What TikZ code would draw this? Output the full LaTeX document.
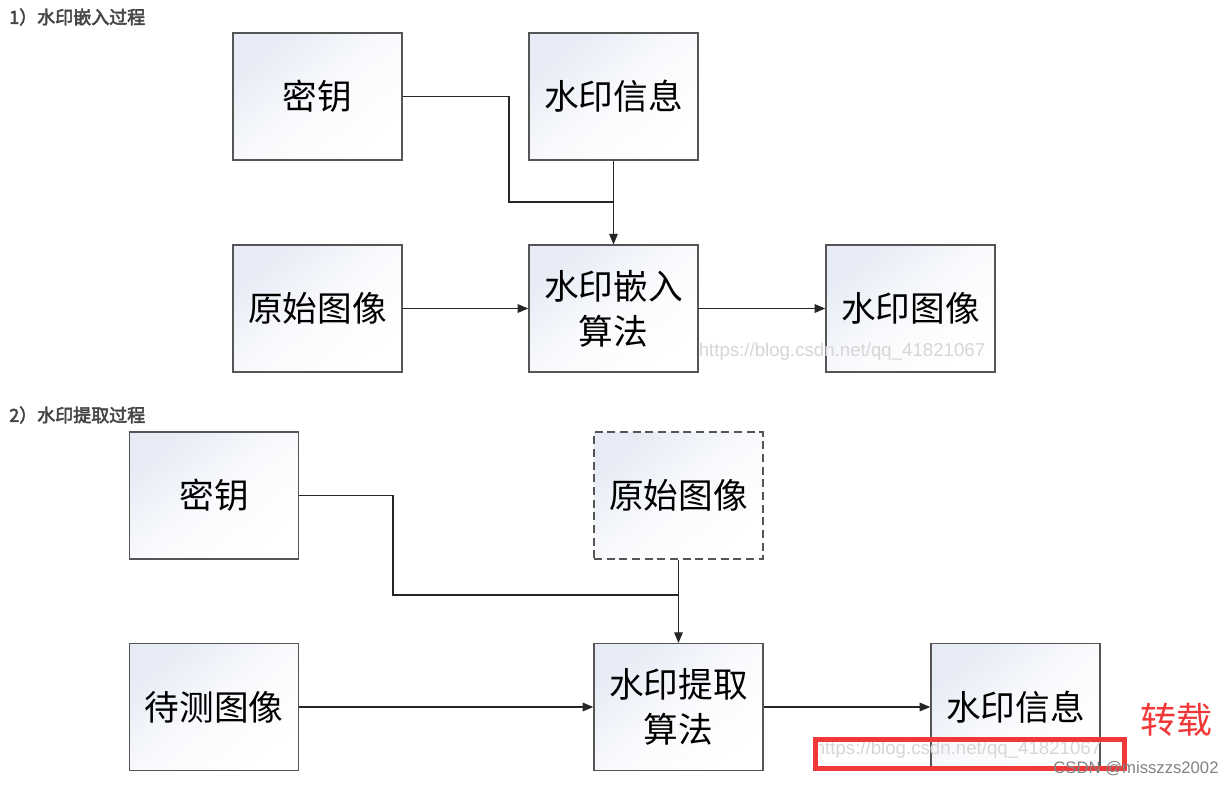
\documentclass[tikz,border=0pt]{standalone}
\usepackage{fontspec}
\setmainfont{Liberation Sans}
\newfontfamily\cjk{Noto Sans CJK SC}[AutoFakeBold=3]
\usetikzlibrary{arrows.meta}
\definecolor{boxline}{RGB}{85,85,85}
\definecolor{boxtop}{RGB}{230,235,245}
\definecolor{headc}{RGB}{70,70,70}
\definecolor{wmark}{RGB}{214,214,214}
\definecolor{redc}{RGB}{240,56,56}
\definecolor{csdnc}{RGB}{130,130,130}
\tikzset{
  procbox/.style={draw=boxline, line width=1.1pt, minimum width=126.75pt, minimum height=95pt,
    inner sep=0pt, align=center, font=\cjk\fontsize{26}{34}\selectfont,
    top color=boxtop, bottom color=white, middle color=white!75!boxtop, shading angle=40},
  dashbox/.style={procbox, dash pattern=on 6pt off 3.5pt},
  conn/.style={line width=0.8pt, draw=black!85},
  arr/.style={conn, -{Triangle[length=8pt,width=6.5pt]}},
  heading/.style={anchor=west, inner sep=0pt, text=headc, font=\cjk\bfseries\fontsize{13.5}{16}\selectfont},
  wm/.style={inner sep=0pt, text=wmark, font=\fontsize{14}{16}\selectfont},
}
\begin{document}
\begin{tikzpicture}[x=0.75pt,y=-0.75pt]
\useasboundingbox[fill=white] (0,0) rectangle (1232,785);
% headings
\node[heading] (h1) at (9,17) {1）水印嵌入过程};
\node[heading] (h2) at (9,415) {2）水印提取过程};
% section 1
\node[procbox] (k1) at (317.5,96.5) {密钥};
\node[procbox] (w1) at (613.5,96.5) {水印信息};
\node[procbox] (o1) at (317.5,308.5) {原始图像};
\node[procbox] (e1) at (613.5,308.5) {水印嵌入\\算法};
\node[procbox] (r1) at (910.5,308.5) {水印图像};
\coordinate (j1) at (613.5,202);
\draw[conn] (k1.east) -- (509,96.5) |- (j1);
\draw[arr] (w1.south) -- (e1.north);
\draw[arr] (o1.east) -- (e1.west);
\draw[arr] (e1.east) -- (r1.west);
\node[wm] (wm1) at (842,352) {https://blog.csdn.net/qq\_41821067};
% section 2
\node[procbox] (k2) at (214,495.5) {密钥};
\node[dashbox] (o2) at (678.5,495.5) {原始图像};
\node[procbox] (t2) at (214,707) {待测图像};
\node[procbox] (x2) at (678.5,707) {水印提取\\算法};
\node[procbox] (w2) at (1015.5,707) {水印信息};
\coordinate (j2) at (678.5,595);
\draw[conn] (k2.east) -- (393,495.5) |- (j2);
\draw[arr] (o2.south) -- (x2.north);
\draw[arr] (t2.east) -- (x2.west);
\draw[arr] (x2.east) -- (w2.west);
\node[wm] (wm2) at (958,750) {https://blog.csdn.net/qq\_41821067};
\draw[draw=redc, line width=3.9pt] (815.5,739.5) rectangle (1124.5,768.5);
\node[inner sep=0pt, text=redc, font=\cjk\fontsize{27}{30}\selectfont] (zz) at (1176,720) {转载};
\node[inner sep=0pt, text=csdnc, font=\fontsize{12.5}{15}\selectfont] (cs) at (1136,769) {CSDN @misszzs2002};
\end{tikzpicture}
\end{document}
